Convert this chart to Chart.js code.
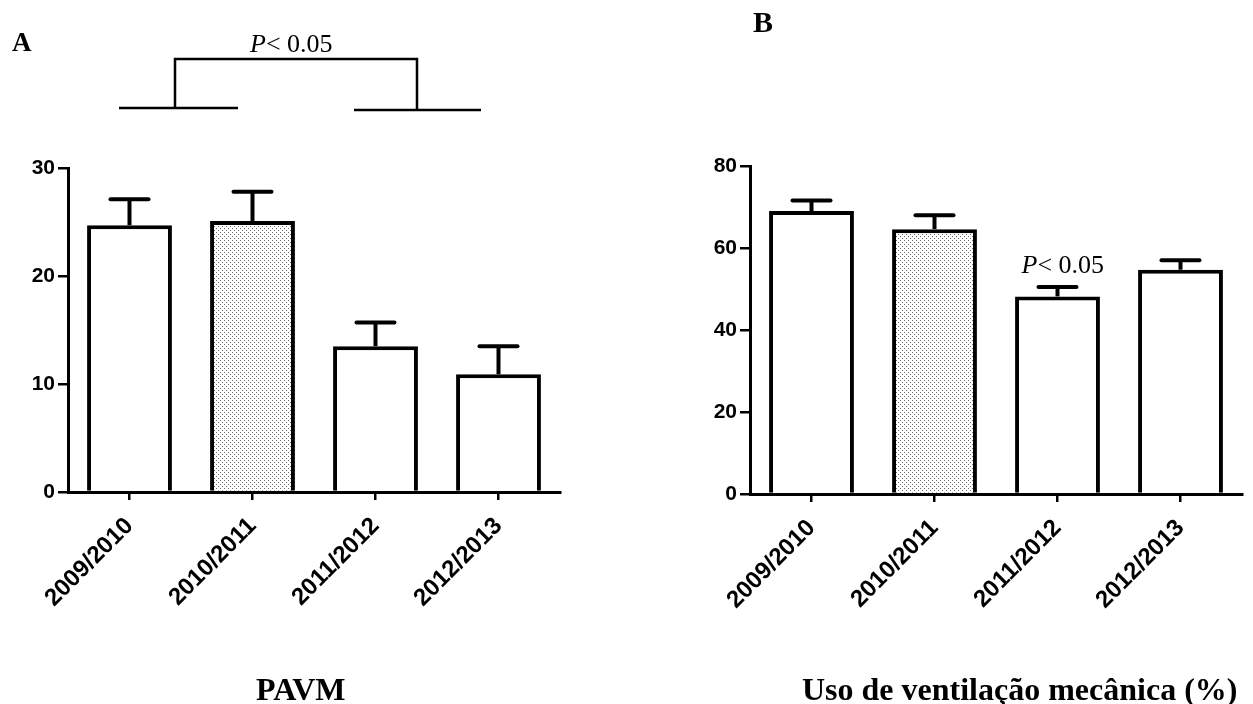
<!DOCTYPE html>
<html>
<head>
<meta charset="utf-8">
<script src="https://cdn.jsdelivr.net/npm/chart.js@4/dist/chart.umd.min.js"></script>
<style>
html, body { margin: 0; padding: 0; background: #fff; }
#wrap { position: relative; width: 1253px; height: 704px; }
canvas { position: absolute; left: 0; top: 0; }
</style>
</head>
<body>
<div id="wrap">
  <canvas id="chartA" width="1253" height="704"></canvas>
  <canvas id="chartB" width="1253" height="704"></canvas>
</div>
<script>
var seasons = ['2009/2010', '2010/2011', '2011/2012', '2012/2013'];

var pavmMean = [24.7, 25.1, 13.5, 10.9];
var pavmUpper = [27.1, 27.8, 15.7, 13.5];
var pavmTicks = [0, 10, 20, 30];

var ventMean = [69.0, 64.6, 48.2, 54.7];
var ventUpper = [71.6, 68.0, 50.5, 57.0];
var ventTicks = [0, 20, 40, 60, 80];

var sans = "'Liberation Sans', Arial, sans-serif";
var serif = "'Liberation Serif', 'Times New Roman', serif";

// dotted fill for the 2010/2011 bar
function dotPattern() {
    var tile = document.createElement('canvas');
    tile.width = 4;
    tile.height = 4;
    var t = tile.getContext('2d');
    t.fillStyle = '#fff';
    t.fillRect(0, 0, 4, 4);
    t.fillStyle = '#666';
    t.fillRect(0, 0, 1, 1);
    t.fillRect(2, 2, 1, 1);
    return t.createPattern(tile, 'repeat');
}
var dots = dotPattern();

var errorBars = {
    id: 'errorBars',
    afterDatasetsDraw: function (chart) {
        var ctx = chart.ctx;
        var ds = chart.data.datasets[0];
        var meta = chart.getDatasetMeta(0);
        var y = chart.scales.y;
        ctx.save();
        ctx.strokeStyle = '#000';
        ctx.lineWidth = 4;
        meta.data.forEach(function (bar, i) {
            var top = y.getPixelForValue(ds.upper[i]);
            ctx.lineCap = 'butt';
            ctx.beginPath();
            ctx.moveTo(bar.x, bar.y);
            ctx.lineTo(bar.x, top);
            ctx.stroke();
            ctx.lineCap = 'round';
            ctx.beginPath();
            ctx.moveTo(bar.x - 19, top);
            ctx.lineTo(bar.x + 19, top);
            ctx.stroke();
        });
        ctx.restore();
    }
};

function drawP(ctx, x, y) {
    ctx.font = 'italic 26px ' + serif;
    ctx.textAlign = 'left';
    ctx.textBaseline = 'alphabetic';
    ctx.fillText('P', x, y);
    var w = ctx.measureText('P').width;
    ctx.font = '26px ' + serif;
    ctx.fillText('< 0.05', x + w, y);
}

var labelsA = {
    id: 'labelsA',
    afterDraw: function (chart) {
        var ctx = chart.ctx;
        ctx.save();
        ctx.fillStyle = '#000';
        ctx.font = 'bold 27px ' + serif;
        ctx.fillText('A', 12, 51);
        ctx.font = 'bold 32px ' + serif;
        ctx.fillText('PAVM', 256, 700);
        // comparison bracket
        ctx.strokeStyle = '#000';
        ctx.lineWidth = 2.5;
        ctx.beginPath();
        ctx.moveTo(119, 108); ctx.lineTo(238, 108);
        ctx.moveTo(175, 108); ctx.lineTo(175, 59); ctx.lineTo(417, 59); ctx.lineTo(417, 110);
        ctx.moveTo(354, 110); ctx.lineTo(481, 110);
        ctx.stroke();
        drawP(ctx, 250, 52);
        ctx.restore();
    }
};

var labelsB = {
    id: 'labelsB',
    afterDraw: function (chart) {
        var ctx = chart.ctx;
        ctx.save();
        ctx.fillStyle = '#000';
        ctx.font = 'bold 30px ' + serif;
        ctx.fillText('B', 753, 32);
        ctx.font = 'bold 32px ' + serif;
        ctx.fillText('Uso de ventilação mecânica (%)', 802, 700);
        var bar = chart.getDatasetMeta(0).data[2];
        var top = chart.scales.y.getPixelForValue(chart.data.datasets[0].upper[2]);
        drawP(ctx, bar.x - 36, top - 14);
        ctx.restore();
    }
};

function makeChart(id, means, upper, ticks, xHeight, padRight, padTop, yWidth, plugin) {
    var ctx = document.getElementById(id).getContext('2d');
    return new Chart(ctx, {
        type: 'bar',
        data: {
            labels: seasons,
            datasets: [{
                data: means,
                upper: upper,
                backgroundColor: ['#fff', dots, '#fff', '#fff'],
                borderColor: '#000',
                borderWidth: 4,
                barPercentage: 0.69,
                categoryPercentage: 1
            }]
        },
        options: {
            responsive: false,
            animation: false,
            layout: { padding: { left: 0, right: padRight, top: padTop, bottom: 0 } },
            plugins: { legend: { display: false }, tooltip: { enabled: false } },
            scales: {
                x: {
                    offset: true,
                    grid: { offset: false, drawOnChartArea: false, tickLength: 8, color: '#000', lineWidth: 2.5 },
                    border: { color: '#000', width: 3 },
                    ticks: {
                        color: '#000',
                        font: { family: sans, weight: 'bold', size: 24 },
                        maxRotation: 45,
                        minRotation: 45,
                        padding: 12
                    },
                    afterFit: function (s) { s.height = xHeight; }
                },
                y: {
                    min: 0,
                    max: ticks[ticks.length - 1],
                    afterBuildTicks: function (s) {
                        s.ticks = ticks.map(function (v) { return { value: v }; });
                    },
                    grid: { drawOnChartArea: false, tickLength: 10, color: '#000', lineWidth: 2.5 },
                    border: { color: '#000', width: 3 },
                    ticks: {
                        color: '#000',
                        font: { family: sans, weight: 'bold', size: 21 },
                        padding: 3
                    },
                    afterFit: function (s) { s.width = yWidth; }
                }
            }
        },
        plugins: [errorBars, plugin]
    });
}

// left panel: chart area 68..560 x 168..492
makeChart('chartA', pavmMean, pavmUpper, pavmTicks, 212, 693, 168, 68, labelsA);

// right panel: chart area 750..1242 x 166..494
makeChart('chartB', ventMean, ventUpper, ventTicks, 210, 11, 166, 750, labelsB);
</script>
</body>
</html>
